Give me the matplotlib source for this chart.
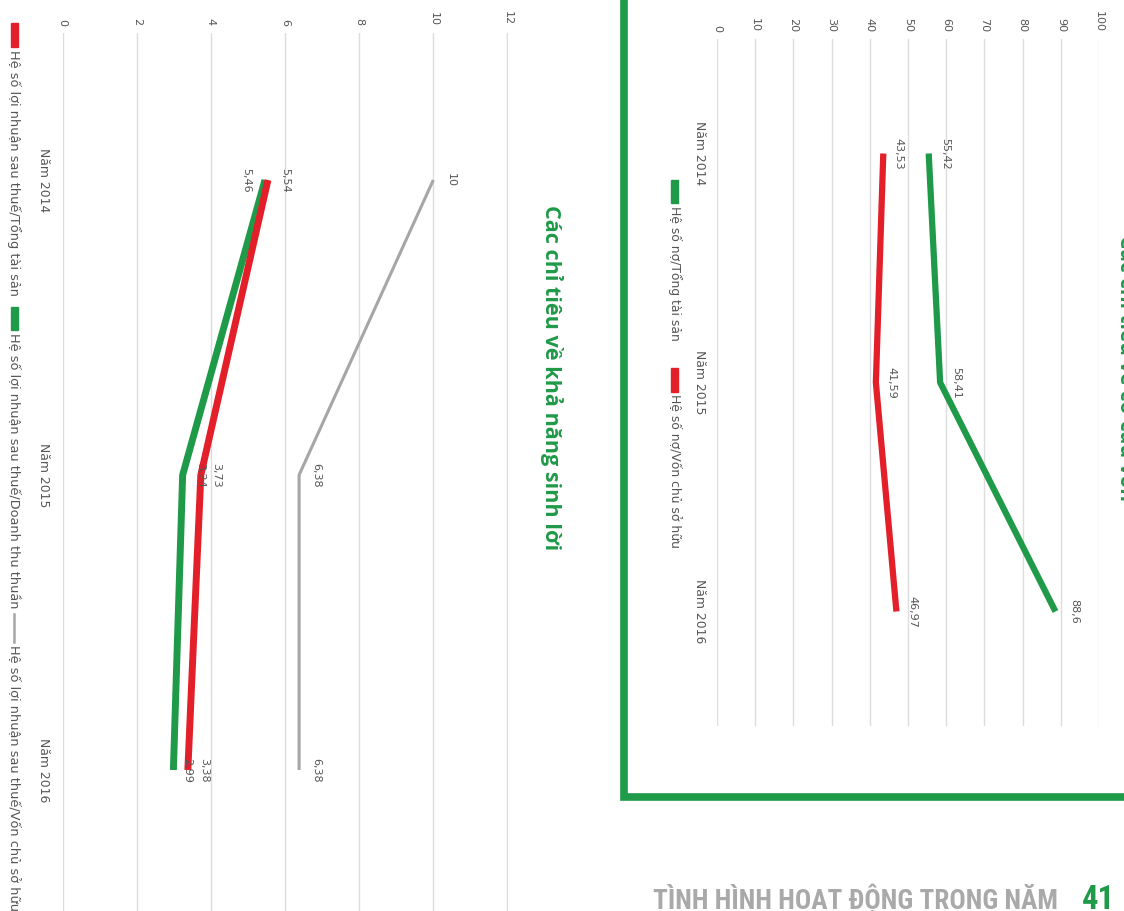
import matplotlib

matplotlib.use("Agg")
import matplotlib.pyplot as plt
from matplotlib import font_manager
from matplotlib.patches import Rectangle

W, H = 1124, 911

years = ["Năm 2014", "Năm 2015", "Năm 2016"]

# profitability ratios (%)
roa = [5.54, 3.73, 3.38]    # lợi nhuận sau thuế / tổng tài sản
ros = [5.46, 3.24, 2.99]    # lợi nhuận sau thuế / doanh thu thuần
roe = [10, 6.38, 6.38]      # lợi nhuận sau thuế / vốn chủ sở hữu
profit_ticks = [0, 2, 4, 6, 8, 10, 12]

# capital structure ratios (%)
debt_assets = [55.42, 58.41, 88.6]
debt_equity = [43.53, 41.59, 46.97]
capital_ticks = [0, 10, 20, 30, 40, 50, 60, 70, 80, 90, 100]

RED = "#e3202a"
GREEN = "#1f9a48"
GRAY = "#a6a6a6"
TXT = "#555555"

plt.rcParams["font.family"] = ["DejaVu Sans"]

# a narrow face for the page footer, if one is installed
installed = {f.name for f in font_manager.fontManager.ttflist}
narrow = [n for n in ("Roboto Condensed", "Liberation Sans Narrow",
                      "DejaVu Sans Condensed", "Roboto") if n in installed]
FOOT_FONT = narrow[:1] + ["DejaVu Sans"]


def vn(v):
    return f"{v:g}".replace(".", ",")


fig = plt.figure(figsize=(W / 100, H / 100), dpi=100)

# full-figure overlay in pixel coordinates for legends, frame and footer
ov = fig.add_axes([0, 0, 1, 1])
ov.set_xlim(0, W)
ov.set_ylim(H, 0)
ov.axis("off")


def px_axes(left, top, right, bottom):
    return fig.add_axes([left / W, 1 - bottom / H, (right - left) / W,
                         (bottom - top) / H])


def style(ax, ticks, xmax, pad):
    ax.set_xlim(0, xmax)
    ax.set_ylim(2.5, -0.5)
    ax.set_facecolor("none")
    for s in ax.spines.values():
        s.set_visible(False)
    ax.xaxis.tick_top()
    ax.set_xticks(ticks)
    ax.set_xticklabels([str(t) for t in ticks], rotation=-90, fontsize=8,
                       color=TXT)
    ax.set_yticks(range(len(years)))
    ax.set_yticklabels(years, rotation=-90, fontsize=8.9, color=TXT,
                       va="center")
    ax.tick_params(length=0, axis="x", pad=5)
    ax.tick_params(length=0, axis="y", pad=pad)
    ax.grid(axis="x", color="#dcdcdc", lw=1)
    ax.set_axisbelow(True)


def labels(ax, vals, offs):
    for i, v in enumerate(vals):
        ax.annotate(vn(v), (v, i), xytext=(offs[i], 0),
                    textcoords="offset pixels", rotation=-90, ha="center",
                    va="center", fontsize=8, color=TXT,
                    annotation_clip=False)


# --- chart 1: profitability -------------------------------------------------
ax1 = px_axes(62.5, 32.5, 507.5, 917.5)
style(ax1, profit_ticks, 12, 9)
y = range(len(years))
ax1.plot(roe, y, color=GRAY, lw=2.2, solid_capstyle="butt")
ax1.plot(ros, y, color=GREEN, lw=5, solid_capstyle="butt")
ax1.plot(roa, y, color=RED, lw=5, solid_capstyle="butt")
labels(ax1, roe, [17, 17, 17])
labels(ax1, roa, [17, 15, 16])
labels(ax1, ros, [-19, 18, 14])

title_kw = dict(rotation=-90, ha="center", va="center", fontsize=15.6,
                fontweight="bold", color=GREEN,
                family=["Open Sans", "DejaVu Sans"])
ov.text(552, 378, "Các chỉ tiêu về khả năng sinh lời", **title_kw)

leg_kw = dict(rotation=-90, ha="center", va="top", fontsize=9.3, color=TXT)
ov.add_patch(Rectangle((11, 23), 7, 24, color=RED))
ov.text(14, 50, "Hệ số lợi nhuận sau thuế/Tổng tài sản", **leg_kw)
ov.add_patch(Rectangle((11, 307), 7, 23, color=GREEN))
ov.text(14, 333, "Hệ số lợi nhuận sau thuế/Doanh thu thuần", **leg_kw)
ov.plot([14, 14], [614, 642], color=GRAY, lw=1.8)
ov.text(14, 645, "Hệ số lợi nhuận sau thuế/Vốn chủ sở hữu", **leg_kw)

# --- chart 2: capital structure --------------------------------------------
ax2 = px_axes(717, 39, 1099, 726)
style(ax2, capital_ticks, 100, 8)
ax2.plot(debt_assets, y, color=GREEN, lw=4.5, solid_capstyle="butt")
ax2.plot(debt_equity, y, color=RED, lw=4.5, solid_capstyle="butt")
labels(ax2, debt_equity, [15, 16, 16])
labels(ax2, debt_assets, [16, 16, 19])

leg2_kw = dict(leg_kw, fontsize=8.9)
ov.add_patch(Rectangle((671, 180), 7, 23, color=GREEN))
ov.text(675, 206, "Hệ số nợ/Tổng tài sản", **leg2_kw)
ov.add_patch(Rectangle((671, 368), 7, 24, color=RED))
ov.text(675, 394, "Hệ số nợ/Vốn chủ sở hữu", **leg2_kw)

ov.text(1126, 368, "Các chỉ tiêu về cơ cấu vốn", clip_on=False,
        **dict(title_kw, fontsize=15))

ov.plot([624, 624, 1150], [-20, 797, 797], color=GREEN, lw=5.5,
        solid_joinstyle="miter", clip_on=False)

# --- page footer ------------------------------------------------------------
ov.text(653, 885, "TÌNH HÌNH HOẠT ĐỘNG TRONG NĂM", ha="left", va="top",
        fontsize=19.5, fontweight="bold", color="#a9a9a9",
        stretch="condensed", family=FOOT_FONT)
ov.text(1082, 884, "41", ha="left", va="top", fontsize=23.5,
        fontweight="bold", color=GREEN, stretch="condensed",
        family=FOOT_FONT)

fig.savefig("out.png", dpi=100)
